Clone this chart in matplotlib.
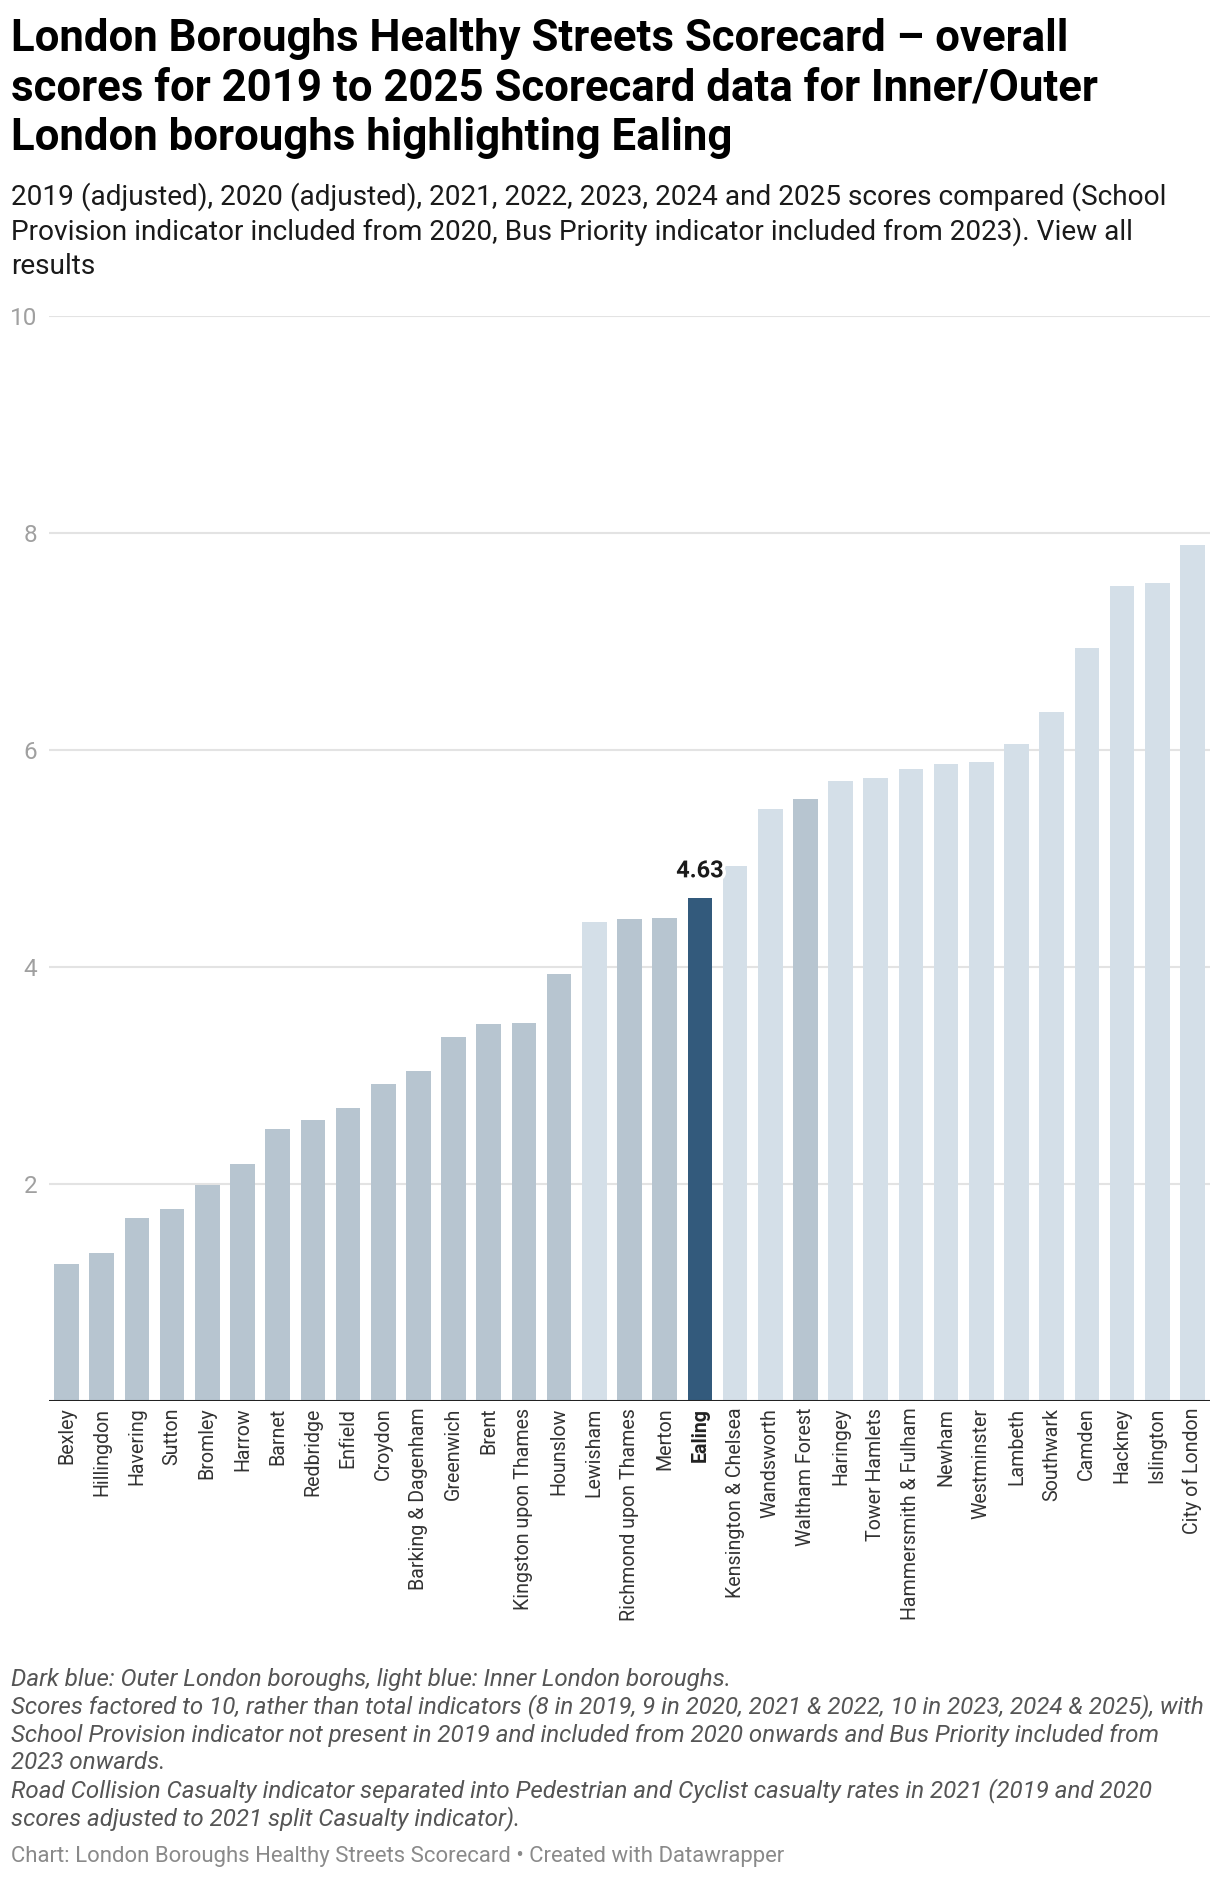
import matplotlib
matplotlib.use("Agg")
import matplotlib.pyplot as plt
import matplotlib.patheffects as pe

# Data
boroughs = ["Bexley", "Hillingdon", "Havering", "Sutton", "Bromley", "Harrow", "Barnet",
            "Redbridge", "Enfield", "Croydon", "Barking & Dagenham", "Greenwich", "Brent",
            "Kingston upon Thames", "Hounslow", "Lewisham", "Richmond upon Thames", "Merton",
            "Ealing", "Kensington & Chelsea", "Wandsworth", "Waltham Forest", "Haringey",
            "Tower Hamlets", "Hammersmith & Fulham", "Newham", "Westminster", "Lambeth",
            "Southwark", "Camden", "Hackney", "Islington", "City of London"]
scores = [1.26, 1.36, 1.68, 1.77, 1.99, 2.18, 2.50, 2.59, 2.70, 2.92, 3.04, 3.35, 3.47,
          3.48, 3.93, 4.41, 4.44, 4.45, 4.63, 4.93, 5.45, 5.55, 5.71, 5.74, 5.82, 5.87,
          5.89, 6.05, 6.35, 6.94, 7.51, 7.54, 7.89]
group = ["outer"] * 15 + ["inner", "outer", "outer", "highlight", "inner", "inner", "outer"] + ["inner"] * 11
y_ticks = [2, 4, 6, 8, 10]

colours = {"outer": "#b7c5d0", "inner": "#d4dfe8", "highlight": "#335a7c"}

W, H = 1220, 1878
plt.rcParams['font.family'] = ['Roboto', 'DejaVu Sans']
fig = plt.figure(figsize=(W / 100, H / 100), dpi=100)

def fx(x):
    return x / W

def fy(y):
    return 1 - y / H

# Title / subtitle
title_lines = ["London Boroughs Healthy Streets Scorecard \u2013 overall",
               "scores for 2019 to 2025 Scorecard data for Inner/Outer",
               "London boroughs highlighting Ealing"]
for i, line in enumerate(title_lines):
    fig.text(fx(11), fy(51 + i * 49.5), line, fontsize=31.5, fontweight='bold',
             color='#000000', va='baseline', ha='left')

sub_lines = ["2019 (adjusted), 2020 (adjusted), 2021, 2022, 2023, 2024 and 2025 scores compared (School",
             "Provision indicator included from 2020, Bus Priority indicator included from 2023). View all",
             "results"]
for i, line in enumerate(sub_lines):
    fig.text(fx(11), fy(205 + i * 34.5), line, fontsize=20.2, color='#1a1a1a',
             va='baseline', ha='left')

# Chart
ax = fig.add_axes([fx(49), fy(1400.7), fx(1210) - fx(49), fy(315.7) - fy(1400.7)])
x = list(range(len(boroughs)))
bar_colours = [colours[g] for g in group]
ax.bar(x, scores, width=0.70, color=bar_colours, zorder=3)
ax.set_xlim(-0.5, len(boroughs) - 0.5)
ax.set_ylim(0, 10)

for t in y_ticks:
    ax.axhline(t, color='#e3e3e3', lw=1.5, zorder=1)
ax.axhline(0, color='#222222', lw=2.2, zorder=4)

for s in ax.spines.values():
    s.set_visible(False)
ax.set_yticks(y_ticks)
ax.set_yticklabels([str(t) for t in y_ticks])
ax.tick_params(axis='y', length=0, pad=8.5, labelsize=17.5, labelcolor='#a0a0a0')
ax.set_xticks(x)
ax.set_xticklabels(boroughs, rotation=90, va='top', ha='center')
ax.tick_params(axis='x', length=0, pad=5, labelsize=14.1, labelcolor='#333333')
for lab in ax.get_xticklabels():
    if lab.get_text() == "Ealing":
        lab.set_fontweight('bold')
        lab.set_color('#222222')

# Highlight value label
ei = boroughs.index("Ealing")
ax.annotate(f"{scores[ei]:.2f}", (ei, scores[ei]), xytext=(0, 16), textcoords='offset pixels',
            ha='center', va='bottom', fontsize=17, fontweight='bold', color='#1a1a1a', zorder=6,
            path_effects=[pe.withStroke(linewidth=5, foreground='white')])

# Notes
note_lines = ["Dark blue: Outer London boroughs, light blue: Inner London boroughs.",
              "Scores factored to 10, rather than total indicators (8 in 2019, 9 in 2020, 2021 & 2022, 10 in 2023, 2024 & 2025), with",
              "School Provision indicator not present in 2019 and included from 2020 onwards and Bus Priority included from",
              "2023 onwards.",
              "Road Collision Casualty indicator separated into Pedestrian and Cyclist casualty rates in 2021 (2019 and 2020",
              "scores adjusted to 2021 split Casualty indicator)."]
for i, line in enumerate(note_lines):
    fig.text(fx(11), fy(1686 + i * 27.8), line, fontsize=17.4, style='italic', color='#555555',
             va='baseline', ha='left')

fig.text(fx(11), fy(1862), "Chart: London Boroughs Healthy Streets Scorecard \u2022 Created with Datawrapper",
         fontsize=15.9, color='#8a8a8a', va='baseline', ha='left')

fig.savefig("out.png", dpi=100, facecolor='white')
